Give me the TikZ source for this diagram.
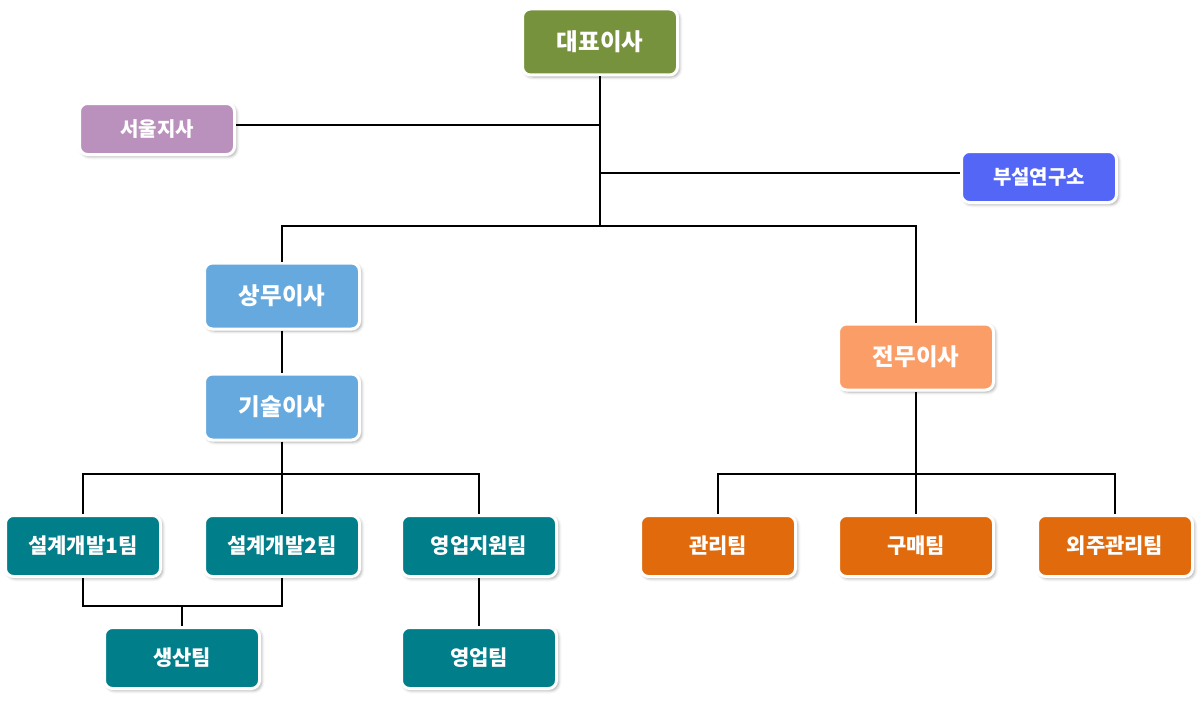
\documentclass[tikz,border=0pt]{standalone}
\usepackage{fontspec}
\setmainfont{Noto Sans CJK KR}
\usetikzlibrary{shadows.blur}
\definecolor{cOlive}{HTML}{76923C}
\definecolor{cLilac}{HTML}{B991BC}
\definecolor{cBlue}{HTML}{5366F5}
\definecolor{cSky}{HTML}{65A9DE}
\definecolor{cPeach}{HTML}{FB9D67}
\definecolor{cTeal}{HTML}{007E8A}
\definecolor{cOrange}{HTML}{E06A0C}
\tikzset{
  box/.style={draw=white, line width=3pt, rounded corners=8pt, text=white,
    font=\bfseries, inner sep=0pt, minimum width=155pt,
    blur shadow={shadow xshift=2pt, shadow yshift=-2pt, shadow blur radius=3pt, shadow opacity=35}},
  big/.style={box, minimum height=66pt, font=\bfseries\fontsize{23.5}{26}\selectfont},
  team/.style={box, minimum height=61pt, font=\bfseries\fontsize{21}{24}\selectfont},
  small/.style={box, minimum height=51pt, font=\bfseries\fontsize{20}{23}\selectfont},
  link/.style={line width=1.6pt, black}
}
\begin{document}
\begin{tikzpicture}[x=1pt,y=-1pt]
\useasboundingbox (0,0) rectangle (1200,701);
\coordinate (j1) at (600,125);
\coordinate (j2) at (600,173);
\coordinate (j3) at (600,226);
\coordinate (jl) at (282,226);
\coordinate (jr) at (916,226);
\coordinate (t1) at (282,474);
\coordinate (t1l) at (83,474);
\coordinate (t1r) at (479,474);
\coordinate (t2) at (916,474);
\coordinate (t2l) at (718,474);
\coordinate (t2r) at (1115,474);
\coordinate (p1) at (83,606);
\coordinate (p2) at (282,606);
\coordinate (pm) at (182,606);

\node[big, fill=cOlive] (ceo) at (600,42) {대표이사};
\node[small, fill=cLilac] (seoul) at (157,129) {서울지사};
\node[small, fill=cBlue] (lab) at (1039,177) {부설연구소};
\node[big, fill=cSky] (sangmu) at (282,296) {상무이사};
\node[big, fill=cSky] (gisul) at (282,407) {기술이사};
\node[big, fill=cPeach] (jeonmu) at (916,357) {전무이사};
\node[team, fill=cTeal] (d1) at (83,546) {설계개발1팀};
\node[team, fill=cTeal] (d2) at (282,546) {설계개발2팀};
\node[team, fill=cTeal] (sup) at (479,546) {영업지원팀};
\node[team, fill=cOrange] (mgmt) at (718,546) {관리팀};
\node[team, fill=cOrange] (buy) at (916,546) {구매팀};
\node[team, fill=cOrange] (out) at (1115,546) {외주관리팀};
\node[team, fill=cTeal] (prod) at (182,658) {생산팀};
\node[team, fill=cTeal] (sales) at (479,658) {영업팀};

\draw[link] (ceo.south) -- (j3);
\draw[link] (j1) -- (j1 -| seoul.east);
\draw[link] (j2) -- (j2 -| lab.west);
\draw[link] (sangmu.north) -- (jl) -- (jr) -- (jeonmu.north);
\draw[link] (sangmu.south) -- (gisul.north);
\draw[link] (gisul.south) -- (t1);
\draw[link] (d1.north) -- (t1l) -- (t1r) -- (sup.north);
\draw[link] (t1) -- (d2.north);
\draw[link] (jeonmu.south) -- (t2);
\draw[link] (mgmt.north) -- (t2l) -- (t2r) -- (out.north);
\draw[link] (t2) -- (buy.north);
\draw[link] (d1.south) -- (p1) -- (p2) -- (d2.south);
\draw[link] (pm) -- (prod.north);
\draw[link] (sup.south) -- (sales.north);
\end{tikzpicture}
\end{document}
